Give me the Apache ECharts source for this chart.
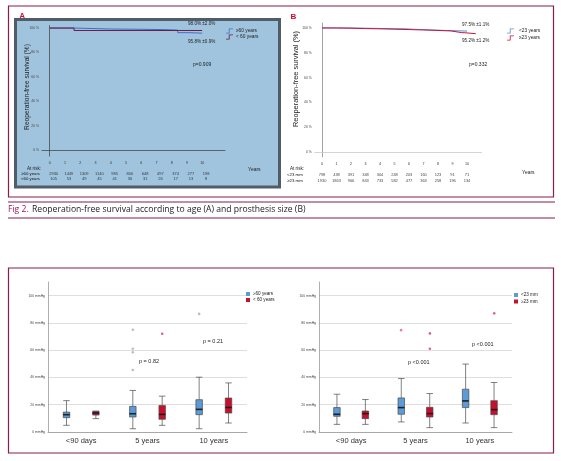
<!DOCTYPE html>
<html>
<head>
<meta charset="utf-8">
<script src="https://cdn.jsdelivr.net/npm/echarts@6/dist/echarts.min.js"></script>
<style>
  html, body { margin: 0; padding: 0; background: #fff; }
  #fig { width: 561px; height: 461px; }
</style>
</head>
<body>
<div id="fig"></div>
<script>
// ---- Kaplan-Meier curves (years, survival %) ----
var kmOldT = [0, 1.6, 4.0, 6.0, 7.5, 8.4, 9.2, 10.0];
var kmOldS = [100, 99.2, 99.0, 98.7, 98.3, 96.2, 95.8, 95.8];
var kmYoungT = [0, 1.6, 10.0];
var kmYoungS = [100, 98.0, 98.0];
var kmSmallT = [0, 2, 4, 5.8, 6.2, 7.5, 8.5, 10.0];
var kmSmallS = [100, 99.6, 99.3, 99.0, 98.4, 98.0, 97.5, 97.5];
var kmLargeT = [0, 1, 2, 3, 4, 5, 6, 7, 8, 8.9, 9.0, 9.6, 10.0, 10.6];
var kmLargeS = [100, 99.8, 99.5, 99.3, 99.0, 98.7, 98.4, 98.0, 97.6, 97.2, 96.3, 96.0, 95.4, 95.2];

// ---- numbers at risk ----
var riskYears = [0, 1, 2, 3, 4, 5, 6, 7, 8, 9, 10];
var riskRowsA = ['≥60 years', '<60 years'];
var riskOld = [2930, 1449, 1309, 1140, 985, 800, 648, 497, 374, 277, 198];
var riskYoung = [105, 53, 49, 45, 41, 36, 31, 26, 17, 13, 8];
var riskRowsB = ['<23 mm', '≥23 mm'];
var riskSmall = [798, 438, 391, 348, 304, 248, 203, 160, 123, 91, 71];
var riskLarge = [1930, 1863, 966, 843, 733, 582, 477, 363, 258, 196, 134];

// ---- gradients, mmHg: [min, Q1, median, Q3, max] ----
var boxCats = ['<90 days', '5 years', '10 years'];
var boxOld = [[4.9, 10.5, 12.7, 14.6, 23], [2.4, 11, 13.4, 18.8, 30.5], [2.4, 12.7, 16.6, 23.7, 40.2]];
var boxYoung = [[9.8, 12.4, 14, 15, 15.4], [4.9, 9.3, 12.9, 19.5, 26.3], [6.6, 13.9, 18, 24.9, 36]];
var outOld = [['5 years', 75], ['5 years', 61], ['5 years', 58.5], ['5 years', 45.5], ['10 years', 86.6]];
var outYoung = [['5 years', 72]];
var boxSmall = [[5.6, 11.5, 13, 17.9, 27.7], [7.4, 13, 17.9, 25, 39.2], [6.6, 17.9, 22.8, 31.4, 49.8]];
var boxLarge = [[5.6, 9.8, 13.5, 15.4, 23.8], [3.2, 11, 13.5, 18.1, 28.2], [3.2, 12.7, 16.4, 23, 36.3]];
var outSmall = [['5 years', 74.7]];
var outLarge = [['5 years', 72.3], ['5 years', 61], ['10 years', 87]];

var FRAME = '#8a1c4c';
var BLUE_BOX = '#5b9bd8';
var RED_BOX = '#c8102e';
var stepIcon = 'path://M0,6 L4,6 L4,0 L10,0 L10,1.2 L5.2,1.2 L5.2,7.2 L0,7.2 Z';

function pairs(t, s) {
    return t.map(function (v, i) { return [v, s[i]]; });
}
function riskData(rows, a, b) {
    var res = [];
    for (var i = 0; i < riskYears.length; i++) {
        res.push([riskYears[i], rows[0], a[i]]);
        res.push([riskYears[i], rows[1], b[i]]);
    }
    return res;
}
function medians(box) {
    return box.map(function (b, i) { return [boxCats[i], b[2]]; });
}
var yearLabel = function (v) {
    return (Math.abs(v - Math.round(v)) < 1e-6 && v >= 0 && v <= 10) ? String(Math.round(v)) : '';
};
var pctLabel = function (v) {
    return (v % 20 === 0 && v >= 0 && v <= 100) ? v + ' %' : '';
};
var mmLabel = function (v) {
    return v <= 100 ? v + ' mmHg' : '';
};

function kmX(grid, max, lineColor) {
    return {
        gridIndex: grid, type: 'value', min: -0.5, max: max, interval: 0.5,
        axisLine: { show: true, lineStyle: { color: lineColor, width: 0.8 } },
        axisTick: { show: false }, splitLine: { show: false },
        axisLabel: { formatter: yearLabel, fontSize: 3.6, color: '#333', margin: 5 }
    };
}
function kmY(grid, min, max, step, lineColor) {
    return {
        gridIndex: grid, type: 'value', min: min, max: max, interval: step,
        axisLine: { show: true, lineStyle: { color: lineColor, width: 0.8 } },
        axisTick: { show: false }, splitLine: { show: false },
        axisLabel: { formatter: pctLabel, fontSize: 3.4, color: '#444', margin: 3 }
    };
}
function riskY(grid, rows, margin) {
    return {
        gridIndex: grid, type: 'category', data: rows, inverse: true,
        axisLine: { show: false }, axisTick: { show: false }, splitLine: { show: false },
        axisLabel: { interval: 0, fontSize: 4.3, color: '#111', margin: margin }
    };
}
function boxX(grid) {
    return {
        gridIndex: grid, type: 'category', data: boxCats,
        axisLine: { lineStyle: { color: '#9a9a9a', width: 0.8 } },
        axisTick: { show: false },
        axisLabel: { interval: 0, fontSize: 7.5, color: '#333', margin: 5 }
    };
}
function boxY(grid) {
    return {
        gridIndex: grid, type: 'value', min: 0, max: 110, interval: 20,
        axisLine: { show: true, lineStyle: { color: '#9a9a9a', width: 0.8 } },
        axisTick: { show: false },
        splitLine: { show: true, showMaxLine: false, lineStyle: { color: '#d6d6d6', width: 0.8 } },
        axisLabel: { formatter: mmLabel, fontSize: 3.4, color: '#444', margin: 3 }
    };
}
function boxSeries(name, grid, data, color) {
    return {
        name: name, type: 'boxplot', xAxisIndex: grid, yAxisIndex: grid, data: data,
        boxWidth: [6.5, 6.5],
        itemStyle: { color: color, borderColor: '#4a4a4a', borderWidth: 0.7 }
    };
}
function medianSeries(grid, box, off) {
    return {
        type: 'scatter', xAxisIndex: grid, yAxisIndex: grid, data: medians(box),
        symbol: 'rect', symbolSize: [6.5, 1.6], symbolOffset: [off, 0],
        itemStyle: { color: '#111' }, z: 5
    };
}
function outlierSeries(grid, data, off, color) {
    return {
        type: 'scatter', xAxisIndex: grid, yAxisIndex: grid, data: data,
        symbol: 'circle', symbolSize: 2.6, symbolOffset: [off, 0],
        itemStyle: { color: color }
    };
}
function txt(text, x, y, size, extra, rot) {
    var o = {
        type: 'text', x: x, y: y, z: 100,
        style: { text: text, fontSize: size, fill: '#222', textVerticalAlign: 'middle',
                 fontFamily: 'Liberation Sans, Arial, sans-serif' }
    };
    if (rot) { o.rotation = rot; }
    if (extra) { for (var k in extra) o.style[k] = extra[k]; }
    return o;
}
function boxLegendItem(name, color) {
    return { name: name, icon: 'rect', itemStyle: { color: color, borderWidth: 0 } };
}

var myChart = echarts.init(document.getElementById('fig'), null, { renderer: 'canvas' });

var option = {
    animation: false,
    backgroundColor: '#ffffff',
    textStyle: { fontFamily: 'Liberation Sans, Arial, sans-serif' },
    grid: [
        { left: 42, right: 336, top: 25.6, bottom: 304.9 },
        { left: 42, right: 336, top: 172, bottom: 280 },
        { left: 314.75, right: 79.5, top: 23, bottom: 304 },
        { left: 314.75, right: 79.5, top: 172, bottom: 277 },
        { left: 48, right: 314, top: 282, bottom: 29 },
        { left: 319, right: 49, top: 282, bottom: 29 }
    ],
    xAxis: [
        kmX(0, 11.5, '#4a4a4a'),
        { gridIndex: 1, type: 'value', min: -0.5, max: 11.5, show: false },
        kmX(2, 11, '#c8c8c8'),
        { gridIndex: 3, type: 'value', min: -0.5, max: 11, show: false },
        boxX(4),
        boxX(5)
    ],
    yAxis: [
        kmY(0, -5, 102, 5, '#4a4a4a'),
        riskY(1, riskRowsA, 2),
        kmY(2, -4, 104, 4, '#8a8a8a'),
        riskY(3, riskRowsB, 12),
        boxY(4),
        boxY(5)
    ],
    legend: [
        {
            orient: 'vertical', left: 226, top: 28.5, padding: 0,
            itemWidth: 7, itemHeight: 5, itemGap: 1,
            textStyle: { fontSize: 4.8, color: '#222', padding: [0, 0, 0, -2] },
            data: [
                { name: '≥60 years', icon: stepIcon, itemStyle: { color: '#3f6fc4', borderWidth: 0 } },
                { name: '< 60 years', icon: stepIcon, itemStyle: { color: '#6e1846', borderWidth: 0 } }
            ]
        },
        {
            orient: 'vertical', left: 507, top: 28.5, padding: 0,
            itemWidth: 7, itemHeight: 5, itemGap: 2,
            textStyle: { fontSize: 4.8, color: '#222' },
            data: [
                { name: '<23 years', icon: stepIcon, itemStyle: { color: '#5a8fd6', borderWidth: 0 } },
                { name: '≥23 years', icon: stepIcon, itemStyle: { color: '#c4163c', borderWidth: 0 } }
            ]
        },
        {
            orient: 'vertical', left: 246, top: 291.5, padding: 0,
            itemWidth: 4, itemHeight: 4, itemGap: 1,
            textStyle: { fontSize: 4.6, color: '#222', padding: [0, 0, 0, -2] },
            data: [boxLegendItem('≥60 years', BLUE_BOX), boxLegendItem('< 60 years', RED_BOX)]
        },
        {
            orient: 'vertical', left: 514, top: 292.5, padding: 0,
            itemWidth: 4, itemHeight: 4, itemGap: 1.5,
            textStyle: { fontSize: 4.6, color: '#222', padding: [0, 0, 0, -2] },
            data: [boxLegendItem('<23 mm', BLUE_BOX), boxLegendItem('≥23 mm', RED_BOX)]
        }
    ],
    graphic: [
        // outer frames and caption rules
        { type: 'rect', z: -20, shape: { x: 8.5, y: 6, width: 545, height: 191 }, style: { fill: 'none', stroke: FRAME, lineWidth: 1.2 } },
        { type: 'rect', z: -20, shape: { x: 8.5, y: 268, width: 545, height: 185 }, style: { fill: 'none', stroke: FRAME, lineWidth: 1.2 } },
        { type: 'line', z: -20, shape: { x1: 8, y1: 202, x2: 555, y2: 202 }, style: { stroke: FRAME, lineWidth: 1.2 } },
        { type: 'line', z: -20, shape: { x1: 8, y1: 218, x2: 555, y2: 218 }, style: { stroke: FRAME, lineWidth: 1.2 } },
        // panel A box
        { type: 'rect', z: -10, shape: { x: 15.5, y: 19.5, width: 264, height: 167.5 }, style: { fill: '#a0c4de', stroke: '#505c68', lineWidth: 3 } },
        txt('A', 19.5, 15.5, 7.5, { fill: '#c8102e', fontWeight: 'bold' }),
        txt('B', 290.5, 17, 8, { fill: '#c8102e', fontWeight: 'bold' }),
        txt('Reoperation-free survival (%)', 27.5, 87, 6.6, { textAlign: 'center' }, Math.PI / 2),
        txt('Reoperation-free survival (%)', 295.5, 79, 7.4, { textAlign: 'center' }, Math.PI / 2),
        txt('98.0% ±2.0%', 188, 24, 4.6),
        txt('95.8% ±0.9%', 188, 42, 4.6),
        txt('p=0.909', 193, 65, 5),
        txt('At risk:', 27, 168.3, 4.6),
        txt('Years', 248, 170, 5),
        txt('97.5% ±1.1%', 462, 25, 4.6),
        txt('95.2% ±1.2%', 462, 41, 4.6),
        txt('p=0.332', 469, 65, 5),
        txt('At risk:', 290, 168.3, 4.6),
        txt('Years', 522, 173, 5),
        // boxplot p-values
        txt('p = 0.82', 139, 361, 5.5),
        txt('p = 0.21', 203, 341, 5.5),
        txt('p <0.001', 408, 362, 5.5),
        txt('p <0.001', 472, 344, 5.5),
        // caption
        {
            type: 'text', x: 8, y: 210, z: 100,
            style: {
                text: '{f|Fig 2.} {t|Reoperation-free survival according to age (A) and prosthesis size (B)}',
                textVerticalAlign: 'middle',
                rich: {
                    f: { fill: '#a3174f', fontSize: 8.6, fontFamily: 'Open Sans, sans-serif' },
                    t: { fill: '#222', fontSize: 8.6, fontFamily: 'Open Sans, sans-serif' }
                }
            }
        }
    ],
    series: [
        { name: '≥60 years', type: 'line', xAxisIndex: 0, yAxisIndex: 0, step: 'end', showSymbol: false,
          data: pairs(kmOldT, kmOldS), itemStyle: { color: '#3f6fc4' }, lineStyle: { color: '#3f6fc4', width: 1 } },
        { name: '< 60 years', type: 'line', xAxisIndex: 0, yAxisIndex: 0, step: 'end', showSymbol: false,
          data: pairs(kmYoungT, kmYoungS), itemStyle: { color: '#6e1846' }, lineStyle: { color: '#6e1846', width: 1 } },
        { name: '<23 years', type: 'line', xAxisIndex: 2, yAxisIndex: 2, step: 'end', showSymbol: false,
          data: pairs(kmSmallT, kmSmallS), itemStyle: { color: '#5a8fd6' }, lineStyle: { color: '#5a8fd6', width: 1 } },
        { name: '≥23 years', type: 'line', xAxisIndex: 2, yAxisIndex: 2, step: 'end', showSymbol: false,
          data: pairs(kmLargeT, kmLargeS), itemStyle: { color: '#c4163c' }, lineStyle: { color: '#c4163c', width: 1 } },
        { type: 'scatter', xAxisIndex: 1, yAxisIndex: 1, symbolSize: 0, data: riskData(riskRowsA, riskOld, riskYoung),
          label: { show: true, position: 'inside', offset: [4, 0], fontSize: 4, color: '#111',
                   formatter: function (p) { return p.value[2]; } } },
        { type: 'scatter', xAxisIndex: 3, yAxisIndex: 3, symbolSize: 0, data: riskData(riskRowsB, riskSmall, riskLarge),
          label: { show: true, position: 'inside', fontSize: 4, color: '#111',
                   formatter: function (p) { return p.value[2]; } } },

        boxSeries('≥60 years', 4, boxOld, BLUE_BOX),
        boxSeries('< 60 years', 4, boxYoung, RED_BOX),
        medianSeries(4, boxOld, -14.7),
        medianSeries(4, boxYoung, 14.7),
        outlierSeries(4, outOld, -14.7, '#a3adc2'),
        outlierSeries(4, outYoung, 14.7, '#d63c5c'),

        boxSeries('<23 mm', 5, boxSmall, BLUE_BOX),
        boxSeries('≥23 mm', 5, boxLarge, RED_BOX),
        medianSeries(5, boxSmall, -14.4),
        medianSeries(5, boxLarge, 14.4),
        outlierSeries(5, outSmall, -14.4, '#d06a84'),
        outlierSeries(5, outLarge, 14.4, '#d63c5c')
    ]
};
myChart.setOption(option);
</script>
</body>
</html>
